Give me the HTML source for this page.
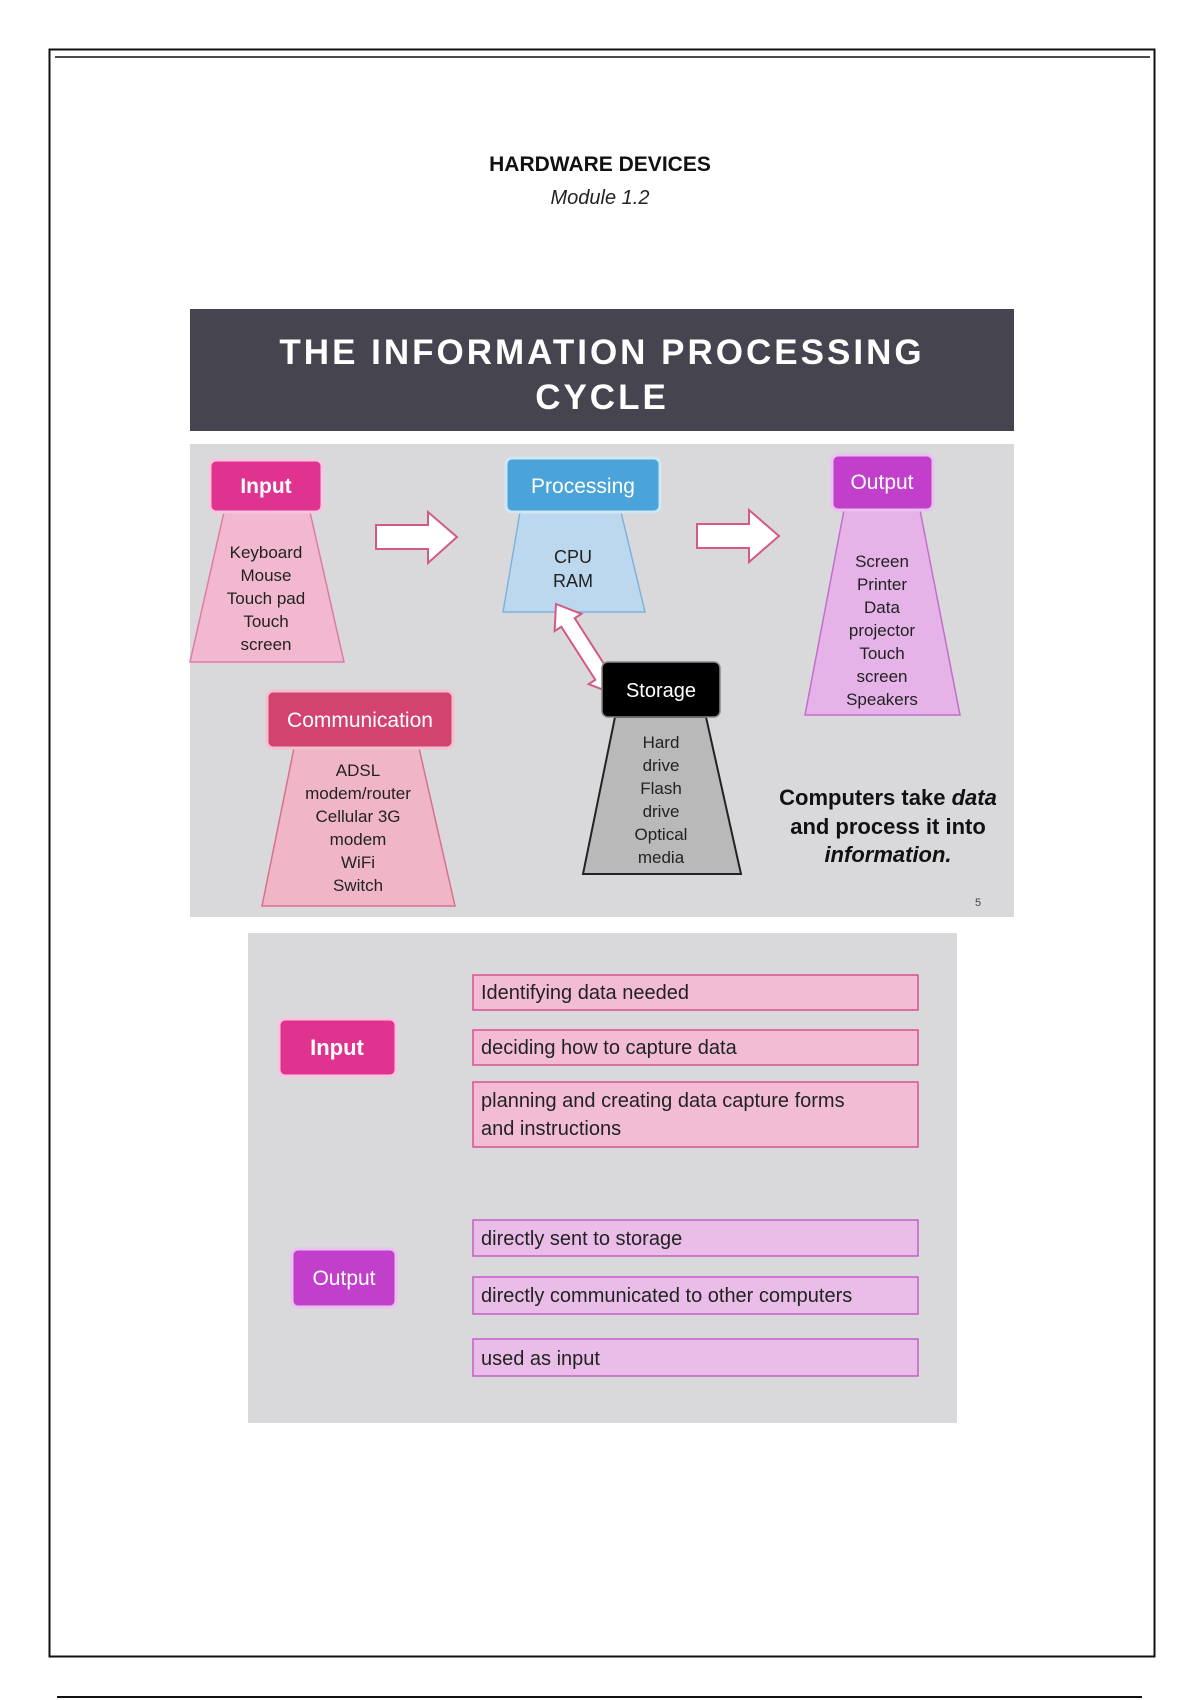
<!DOCTYPE html>
<html><head><meta charset="utf-8"><style>
html,body{margin:0;padding:0;background:#fff;width:1200px;height:1700px;overflow:hidden}
svg{display:block}
text{font-family:"Liberation Sans",Arial,sans-serif}
</style></head><body>
<svg width="1200" height="1700" viewBox="0 0 1200 1700" xmlns="http://www.w3.org/2000/svg">
<rect x="49.5" y="49.5" width="1105" height="1607" fill="none" stroke="#111" stroke-width="2"/>
<line x1="55" y1="57" x2="1150" y2="57" stroke="#111" stroke-width="1.5"/>
<line x1="57" y1="1697" x2="1142" y2="1697" stroke="#111" stroke-width="2"/>
<text x="600" y="171" text-anchor="middle" font-size="21" font-weight="bold" fill="#111">HARDWARE DEVICES</text>
<text x="600" y="204" text-anchor="middle" font-size="20" font-style="italic" fill="#222">Module 1.2</text>

<rect x="190" y="309" width="824" height="122" fill="#45444f"/>
<text x="602" y="364" text-anchor="middle" font-size="35" font-weight="bold" fill="#fff" letter-spacing="3">THE INFORMATION PROCESSING</text>
<text x="602" y="409" text-anchor="middle" font-size="35" font-weight="bold" fill="#fff" letter-spacing="3">CYCLE</text>

<rect x="190" y="444" width="824" height="473" fill="#d9d9dc"/>

<!-- Input -->
<polygon points="224,512 310,512 344,662 190,662" fill="#f2b8d0" stroke="#e07aa7" stroke-width="1.5"/>
<rect x="210" y="460" width="112" height="52" rx="6" fill="#e0338f" stroke="#f7c6de" stroke-width="3"/>
<text x="266" y="493" text-anchor="middle" font-size="21" font-weight="bold" fill="#fff">Input</text>
<g font-size="17" fill="#222" text-anchor="middle">
<text x="266" y="558">Keyboard</text><text x="266" y="581">Mouse</text><text x="266" y="604">Touch pad</text><text x="266" y="627">Touch</text><text x="266" y="650">screen</text>
</g>

<!-- arrows -->
<polygon points="376,525 428,525 428,512 457,537 428,563 428,549 376,549" fill="#fff" stroke="#d35a86" stroke-width="2"/>
<polygon points="697,524 749,524 749,510 779,536 749,562 749,548 697,548" fill="#fff" stroke="#d35a86" stroke-width="2"/>

<!-- Processing -->
<polygon points="520,512 621,512 645,612 503,612" fill="#bcd8ee" stroke="#7fb3dc" stroke-width="1.5"/>
<rect x="506" y="458" width="154" height="54" rx="6" fill="#4aa3d9" stroke="#cfe6f5" stroke-width="3"/>
<text x="583" y="493" text-anchor="middle" font-size="21" fill="#fff">Processing</text>
<text x="573" y="563" text-anchor="middle" font-size="18" fill="#222">CPU</text>
<text x="573" y="587" text-anchor="middle" font-size="18" fill="#222">RAM</text>

<!-- double arrow -->
<polygon points="556,604 581.4,613.9 574.7,618.2 608.7,671.2 615.4,666.9 614,694 588.6,684.1 595.3,679.8 561.3,626.8 554.6,631.1" fill="#fff" stroke="#d35a86" stroke-width="2"/>

<!-- Output -->
<polygon points="844,510 920,510 960,715 805,715" fill="#e6b3e8" stroke="#c66ccd" stroke-width="1.5"/>
<rect x="832" y="455" width="101" height="55" rx="6" fill="#c23fcc" stroke="#eac0ee" stroke-width="3"/>
<text x="882" y="489" text-anchor="middle" font-size="21" fill="#fff">Output</text>
<g font-size="17" fill="#222" text-anchor="middle">
<text x="882" y="567">Screen</text><text x="882" y="590">Printer</text><text x="882" y="613">Data</text><text x="882" y="636">projector</text><text x="882" y="659">Touch</text><text x="882" y="682">screen</text><text x="882" y="705">Speakers</text>
</g>

<!-- Communication -->
<polygon points="294,748 419,748 455,906 262,906" fill="#f0b6c8" stroke="#d8708f" stroke-width="1.5"/>
<rect x="267" y="691" width="186" height="57" rx="6" fill="#d2436f" stroke="#f3c0d0" stroke-width="3"/>
<text x="360" y="727" text-anchor="middle" font-size="21" fill="#fff">Communication</text>
<g font-size="17" fill="#222" text-anchor="middle">
<text x="358" y="776">ADSL</text><text x="358" y="799">modem/router</text><text x="358" y="822">Cellular 3G</text><text x="358" y="845">modem</text><text x="358" y="868">WiFi</text><text x="358" y="891">Switch</text>
</g>

<!-- Storage -->
<polygon points="615,717 706,717 741,874 583,874" fill="#b9b9b9" stroke="#222" stroke-width="2"/>
<rect x="602" y="662" width="118" height="55" rx="6" fill="#000" stroke="#888" stroke-width="1.5"/>
<text x="661" y="697" text-anchor="middle" font-size="20" fill="#fff">Storage</text>
<g font-size="17" fill="#222" text-anchor="middle">
<text x="661" y="748">Hard</text><text x="661" y="771">drive</text><text x="661" y="794">Flash</text><text x="661" y="817">drive</text><text x="661" y="840">Optical</text><text x="661" y="863">media</text>
</g>

<g font-size="22" font-weight="bold" fill="#111" text-anchor="middle">
<text x="888" y="805">Computers take <tspan font-style="italic">data</tspan></text>
<text x="888" y="834">and process it into</text>
<text x="888" y="862" font-style="italic">information.</text>
</g>
<text x="975" y="906" font-size="11" fill="#444">5</text>

<!-- lower box -->
<rect x="248" y="933" width="709" height="490" fill="#d9d9dc"/>
<rect x="279" y="1019" width="117" height="57" rx="6" fill="#e0338f" stroke="#f7c6de" stroke-width="3"/>
<text x="337" y="1055" text-anchor="middle" font-size="22" font-weight="bold" fill="#fff">Input</text>
<rect x="292" y="1249" width="104" height="58" rx="6" fill="#c23fcc" stroke="#eac0ee" stroke-width="3"/>
<text x="344" y="1285" text-anchor="middle" font-size="21" fill="#fff">Output</text>

<g fill="#f3bcd5" stroke="#d9508f" stroke-width="1.5">
<rect x="473" y="975" width="445" height="35"/>
<rect x="473" y="1030" width="445" height="35"/>
<rect x="473" y="1082" width="445" height="65"/>
</g>
<g fill="#e9bde8" stroke="#c35fc8" stroke-width="1.5">
<rect x="473" y="1220" width="445" height="36"/>
<rect x="473" y="1277" width="445" height="37"/>
<rect x="473" y="1339" width="445" height="37"/>
</g>
<g font-size="20" fill="#222">
<text x="481" y="999">Identifying data needed</text>
<text x="481" y="1054">deciding how to capture data</text>
<text x="481" y="1107">planning and creating data capture forms</text>
<text x="481" y="1135">and instructions</text>
<text x="481" y="1245">directly sent to storage</text>
<text x="481" y="1302">directly communicated to other computers</text>
<text x="481" y="1365">used as input</text>
</g>
</svg>
</body></html>
